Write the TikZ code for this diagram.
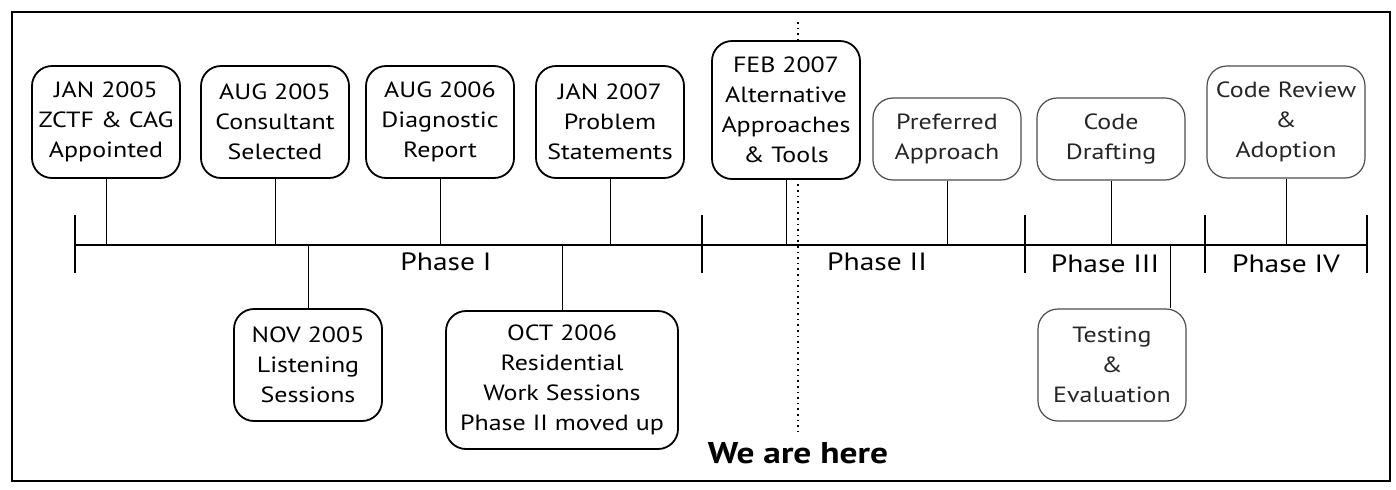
\documentclass[tikz,border=0pt]{standalone}
\usepackage{fontspec}
\setmainfont{PT Sans}[FakeStretch=1.18]
\usetikzlibrary{
	positioning		% relative placement
	, calc			% coordinate arithmetic
}

\begin{document}
\begin{tikzpicture}[
		x=0.5pt, y=-0.5pt,
		font=\fontsize{11}{15}\selectfont,
		milestone/.style={draw, line width=0.9pt, fill=white, rounded corners=10pt,
			align=center, minimum width=74pt, minimum height=56pt, inner xsep=3pt}
		, planned/.style={milestone, draw=black!70, line width=0.6pt, text=black!85}
		, twolines/.style={minimum height=41pt}
		, fourlines/.style={minimum height=69pt}
		, stem/.style={line width=0.5pt}
		, phasetick/.style={line width=0.7pt}
		, phaselabel/.style={font=\fontsize{12.5}{15}\selectfont}
	]

	\useasboundingbox (0,0) rectangle (1396,489);

	% Outer frame
	\draw[line width=1pt] (12,12) rectangle (1390,481);

	% The timeline and its phase ticks
	\coordinate (tlstart) at (75,245);
	\coordinate (tlend) at (1367,245);
	\draw[line width=1pt] (tlstart) -- (tlend);
	\foreach \tx in {75,702,1025,1205,1367} {
		\draw[phasetick] (\tx,215) -- (\tx,273);
	};

	% We are here marker (drawn first so the boxes cover it)
	\node[font=\fontsize{15}{17}\bfseries\selectfont] (here) at (798,453) {We are here};
	\coordinate (nowtop) at (here.north |- 0,22);
	\draw[dotted, line width=0.8pt] (nowtop) -- (here.north);

	% Milestones above the line
	\node[milestone] (jan05) at (106,122) {JAN 2005\\ZCTF \& CAG\\Appointed};
	\node[milestone] (aug05) at (275,122) {AUG 2005\\Consultant\\Selected};
	\node[milestone] (aug06) at (440,122) {AUG 2006\\Diagnostic\\Report};
	\node[milestone] (jan07) at (610,122) {JAN 2007\\Problem\\Statements};
	\node[milestone, fourlines] (feb07) at (786,110) {FEB 2007\\Alternative\\Approaches\\\& Tools};
	\node[planned, twolines] (pref) at (947,139) {Preferred\\Approach};
	\node[planned, twolines] (draft) at (1111,139) {Code\\Drafting};
	\node[planned, minimum width=79pt] (review) at (1286,122) {Code Review\\\&\\Adoption};

	% Milestones below the line
	\node[milestone] (nov05) at (308,365) {NOV 2005\\Listening\\Sessions};
	\node[milestone, fourlines, minimum width=116pt] (oct06) at (562,380) {OCT 2006\\Residential\\Work Sessions\\Phase II moved up};
	\node[planned] (test) at (1112,365) {Testing\\\&\\Evaluation};

	% Stems joining each box to the line
	\foreach \m in {jan05,aug05,aug06,jan07,feb07,pref,draft,review} {
		\draw[stem] (\m.south) -- (\m.south |- tlstart);
	};
	\foreach \m in {nov05,oct06} {
		\draw[stem] (\m.north) -- (\m.north |- tlstart);
	};
	\coordinate (testtop) at ($(test.north east)+(-16,0)$);
	\draw[stem] (testtop) -- (testtop |- tlstart);

	% Phase names
	\node[phaselabel] (ph1) at (446,262) {Phase I};
	\node[phaselabel] (ph2) at (877,262) {Phase II};
	\node[phaselabel] (ph3) at (1105,264) {Phase III};
	\node[phaselabel] (ph4) at (1286,264) {Phase IV};
\end{tikzpicture}
\end{document}
